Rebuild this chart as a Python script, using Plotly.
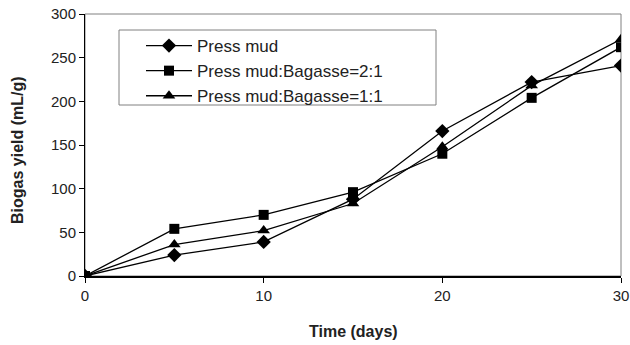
import plotly.graph_objects as go

days = [0, 5, 10, 15, 20, 25, 30]
press_mud = [0, 24, 39, 88, 166, 222, 241]
pm_bagasse_2_1 = [0, 54, 70, 96, 140, 204, 262]
pm_bagasse_1_1 = [0, 36, 52, 83, 148, 218, 271]
series_names = ["Press mud", "Press mud:Bagasse=2:1", "Press mud:Bagasse=1:1"]
x_ticks = [0, 10, 20, 30]
y_ticks = [0, 50, 100, 150, 200, 250, 300]

FONT = "Arial, Liberation Sans, sans-serif"

W, H = 630, 345
L, R, T, B = 85, 9, 14, 69
pw, ph = W - L - R, H - T - B

def px_x(page_x):
    return (page_x - L) / pw

def px_y(page_y):
    return 1 - (page_y - T) / ph

fig = go.Figure()
for name, vals, sym, sz in [
    (series_names[0], press_mud, "diamond", 11),
    (series_names[1], pm_bagasse_2_1, "square", 10),
    (series_names[2], pm_bagasse_1_1, "triangle-up", 11),
]:
    fig.add_trace(go.Scatter(
        x=days, y=vals, name=name, mode="lines+markers",
        line=dict(color="black", width=1.3),
        marker=dict(symbol=sym, size=sz, color="black"),
    ))

fig.update_layout(
    width=W, height=H,
    margin=dict(l=L, r=R, t=T, b=B, autoexpand=False),
    paper_bgcolor="white", plot_bgcolor="white",
    font=dict(family=FONT, color="#222", size=15),
    showlegend=True,
    legend=dict(
        x=px_x(141), y=px_y(28), xanchor="left", yanchor="top",
        borderwidth=0, bgcolor="rgba(0,0,0,0)",
        font=dict(size=17, family=FONT, color="#222"),
        tracegroupgap=0, itemwidth=46,
    ),
    shapes=[
        dict(type="rect", xref="paper", yref="paper", x0=0, y0=0, x1=1, y1=1,
             line=dict(color="#808080", width=1), layer="below"),
        dict(type="rect", xref="paper", yref="paper",
             x0=px_x(119), x1=px_x(436), y0=px_y(105), y1=px_y(30),
             line=dict(color="#808080", width=1), fillcolor="white", layer="below"),
    ],
    annotations=[
        dict(text="<b>Time (days)</b>", xref="paper", yref="paper",
             x=0.5, y=px_y(331), xanchor="center", yanchor="middle",
             showarrow=False, font=dict(size=16, family=FONT, color="#222")),
        dict(text="<b>Biogas yield (mL/g)</b>", xref="paper", yref="paper",
             x=px_x(17), y=px_y(150), xanchor="center", yanchor="middle", textangle=-90,
             showarrow=False, font=dict(size=16, family=FONT, color="#222")),
    ],
)
fig.update_xaxes(
    range=[0, 30], tickvals=x_ticks, showgrid=False, zeroline=False,
    showline=True, linecolor="black", linewidth=2, automargin=False,
    ticks="outside", ticklen=5, tickcolor="black",
    tickfont=dict(size=15, family=FONT), ticklabeloverflow="allow",
)
fig.update_yaxes(
    range=[0, 300], tickvals=y_ticks, showgrid=False, zeroline=False,
    showline=True, linecolor="black", linewidth=1, automargin=False,
    ticks="outside", ticklen=5, tickcolor="black",
    tickfont=dict(size=15, family=FONT), ticklabeloverflow="allow",
)
fig.write_html(
    "out.html",
    config={"displayModeBar": False},
    post_script="document.body.style.margin='0';document.body.style.overflow='hidden';",
)
